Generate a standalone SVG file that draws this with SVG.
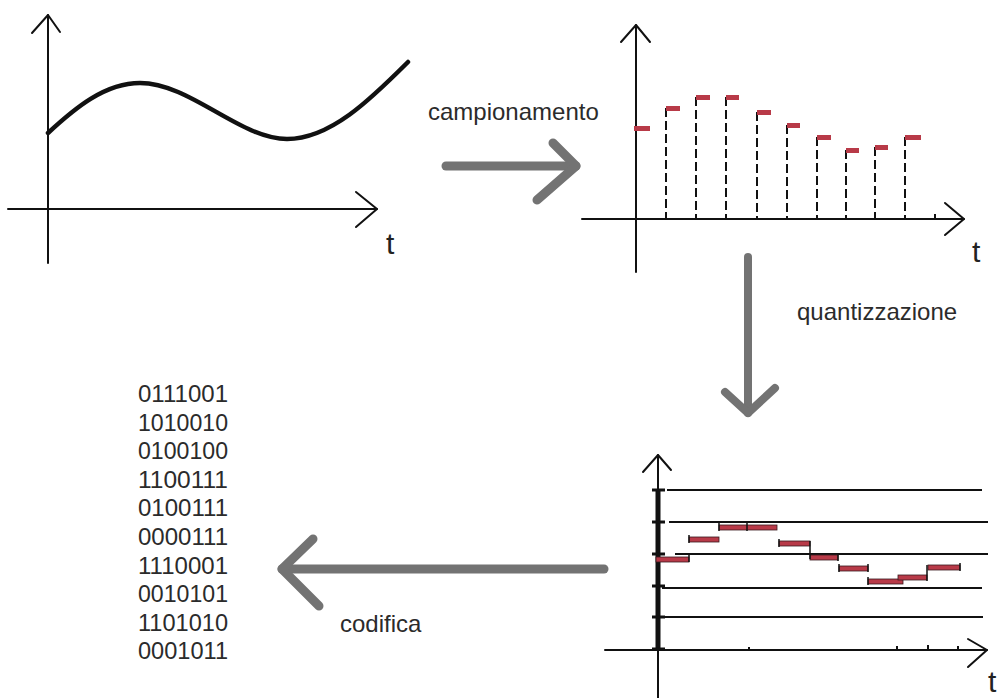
<svg xmlns="http://www.w3.org/2000/svg" width="1001" height="698" viewBox="0 0 1001 698">
<style>
.ax{stroke:#111;stroke-width:2;fill:none;stroke-linecap:round;stroke-linejoin:round}
.dash{stroke:#111;stroke-width:2;stroke-dasharray:9 4}
.smp{fill:#b83a48}
.q{fill:#b83a48;stroke:#3a1a1e;stroke-width:0.8}
.lvl{stroke:#111;stroke-width:2}
.tk{stroke:#111;stroke-width:3}
.lbl{font-family:"Liberation Sans",Arial,sans-serif;font-size:24px;fill:#2b2b2b}
.t{font-family:"Liberation Sans",Arial,sans-serif;font-size:30px;fill:#222}
.bin{font-family:"Liberation Sans",Arial,sans-serif;font-size:24.5px;fill:#2b2b2b}
.arr{stroke:#737373;stroke-width:9;fill:none;stroke-linecap:round;stroke-linejoin:round}
</style>
<rect width="1001" height="698" fill="#fff"/>

<g id="plot-analog">
  <line class="ax" x1="48" y1="15" x2="48" y2="263"/>
  <polyline class="ax" points="32,33 48,15 60,32"/>
  <line class="ax" x1="8" y1="209" x2="377" y2="209"/>
  <polyline class="ax" points="356,192 377,209 356,227"/>
  <text class="t" x="386" y="254">t</text>
  <path d="M48,133 C75,108 105,83 140,83 C190,83 240,139 287,139 C330,139 370,100 408,62" fill="none" stroke="#111" stroke-width="4.5" stroke-linecap="round"/>
</g>

<g id="plot-sampled">
  <line class="ax" x1="636" y1="25" x2="636" y2="272"/>
  <polyline class="ax" points="621,42 636,25 650,42"/>
  <line class="ax" x1="582" y1="219" x2="964" y2="219"/>
  <polyline class="ax" points="945,203 964,219 945,235"/>
  <text class="t" x="972" y="262">t</text>
  <line x1="935" y1="219" x2="935" y2="214" stroke="#111" stroke-width="2"/>
  <line class="dash" x1="666" y1="108" x2="666" y2="219"/>
  <line class="dash" x1="696" y1="97" x2="696" y2="219"/>
  <line class="dash" x1="726" y1="97" x2="726" y2="219"/>
  <line class="dash" x1="757" y1="112" x2="757" y2="219"/>
  <line class="dash" x1="787" y1="125" x2="787" y2="219"/>
  <line class="dash" x1="817" y1="137" x2="817" y2="219"/>
  <line class="dash" x1="846" y1="150" x2="846" y2="219"/>
  <line class="dash" x1="875" y1="147" x2="875" y2="219"/>
  <line class="dash" x1="905" y1="137" x2="905" y2="219"/>
  <rect class="smp" x="634" y="126" width="16" height="5"/>
  <rect class="smp" x="666" y="106" width="14" height="5"/>
  <rect class="smp" x="696" y="95" width="14" height="5"/>
  <rect class="smp" x="726" y="95" width="13" height="5"/>
  <rect class="smp" x="757" y="110" width="14" height="5"/>
  <rect class="smp" x="787" y="123" width="13" height="5"/>
  <rect class="smp" x="817" y="135" width="14" height="5"/>
  <rect class="smp" x="846" y="148" width="13" height="5"/>
  <rect class="smp" x="875" y="145" width="13" height="5"/>
  <rect class="smp" x="905" y="135" width="16" height="5"/>
</g>

<g id="plot-quantized">
  <line class="ax" x1="658" y1="455" x2="658" y2="698"/>
  <line x1="658" y1="490" x2="658" y2="650" stroke="#111" stroke-width="5"/>
  <polyline class="ax" points="643,472 658,455 671,470"/>
  <line class="ax" x1="605" y1="650" x2="987" y2="650"/>
  <polyline class="ax" points="968,639 987,650 968,667"/>
  <text class="t" x="988" y="692">t</text>
  <line class="lvl" x1="667" y1="490" x2="982" y2="490"/>
  <line class="lvl" x1="669" y1="522" x2="988" y2="522"/>
  <line class="lvl" x1="675" y1="554" x2="988" y2="554"/>
  <line class="lvl" x1="662" y1="588" x2="982" y2="588"/>
  <line class="lvl" x1="663" y1="617" x2="983" y2="617"/>
  <line class="tk" x1="652" y1="490" x2="665" y2="490"/>
  <line class="tk" x1="652" y1="522" x2="665" y2="522"/>
  <line class="tk" x1="652" y1="554" x2="665" y2="554"/>
  <line class="tk" x1="652" y1="586" x2="665" y2="586"/>
  <line class="tk" x1="652" y1="617" x2="665" y2="617"/>
  <line class="tk" x1="652" y1="649" x2="665" y2="649"/>
  <line x1="749" y1="650" x2="749" y2="647" stroke="#111" stroke-width="2"/>
  <line x1="897" y1="650" x2="897" y2="646" stroke="#111" stroke-width="2"/>
  <line x1="928" y1="650" x2="928" y2="645" stroke="#111" stroke-width="2"/>
  <line x1="958" y1="650" x2="958" y2="646" stroke="#111" stroke-width="2"/>
  <rect class="q" x="656" y="557" width="33" height="5"/>
  <rect class="q" x="689" y="537" width="30" height="5"/>
  <rect class="q" x="719" y="525" width="58" height="5"/>
  <rect class="q" x="779" y="541" width="31" height="5"/>
  <rect class="q" x="810" y="555" width="28" height="5"/>
  <rect class="q" x="839" y="566" width="29" height="5"/>
  <rect class="q" x="868" y="579" width="35" height="5"/>
  <rect class="q" x="898" y="575" width="29" height="5"/>
  <rect class="q" x="928" y="565" width="32" height="5"/>
  <g stroke="#111" stroke-width="1.5">
    <line x1="689" y1="553" x2="689" y2="562"/>
    <line x1="689" y1="535" x2="689" y2="543"/>
    <line x1="719" y1="523" x2="719" y2="531"/>
    <line x1="747" y1="523" x2="747" y2="531"/>
    <line x1="779" y1="539" x2="779" y2="547"/>
    <line x1="810" y1="541" x2="810" y2="559"/>
    <line x1="838" y1="553" x2="838" y2="561"/>
    <line x1="839" y1="564" x2="839" y2="572"/>
    <line x1="868" y1="564" x2="868" y2="572"/>
    <line x1="868" y1="577" x2="868" y2="585"/>
    <line x1="927" y1="565" x2="927" y2="581"/>
    <line x1="960" y1="563" x2="960" y2="571"/>
  </g>
</g>

<g id="binary-codes">
  <text class="bin" x="138" y="402" textLength="90" lengthAdjust="spacingAndGlyphs">0111001</text>
  <text class="bin" x="138" y="430.6" textLength="90" lengthAdjust="spacingAndGlyphs">1010010</text>
  <text class="bin" x="138" y="459.2" textLength="90" lengthAdjust="spacingAndGlyphs">0100100</text>
  <text class="bin" x="138" y="487.8" textLength="90" lengthAdjust="spacingAndGlyphs">1100111</text>
  <text class="bin" x="138" y="516.4" textLength="90" lengthAdjust="spacingAndGlyphs">0100111</text>
  <text class="bin" x="138" y="545" textLength="90" lengthAdjust="spacingAndGlyphs">0000111</text>
  <text class="bin" x="138" y="573.6" textLength="90" lengthAdjust="spacingAndGlyphs">1110001</text>
  <text class="bin" x="138" y="602.2" textLength="90" lengthAdjust="spacingAndGlyphs">0010101</text>
  <text class="bin" x="138" y="630.8" textLength="90" lengthAdjust="spacingAndGlyphs">1101010</text>
  <text class="bin" x="138" y="659.4" textLength="90" lengthAdjust="spacingAndGlyphs">0001011</text>
</g>

<g id="connectors">
  <g id="arrow-campionamento">
    <line class="arr" x1="446" y1="166" x2="576" y2="166"/>
    <polyline class="arr" points="553,143 576,166 537,200"/>
    <text class="lbl" x="428" y="120">campionamento</text>
  </g>
  <g id="arrow-quantizzazione">
    <line class="arr" x1="748" y1="257" x2="748" y2="413" style="stroke-width:8"/>
    <polyline class="arr" points="725,392 748,413 775,388" style="stroke-width:8"/>
    <text class="lbl" x="797" y="320">quantizzazione</text>
  </g>
  <g id="arrow-codifica">
    <line class="arr" x1="604" y1="569" x2="282" y2="569"/>
    <polyline class="arr" points="313,539 282,569 319,606"/>
    <text class="lbl" x="340" y="632">codifica</text>
  </g>
</g>
</svg>
